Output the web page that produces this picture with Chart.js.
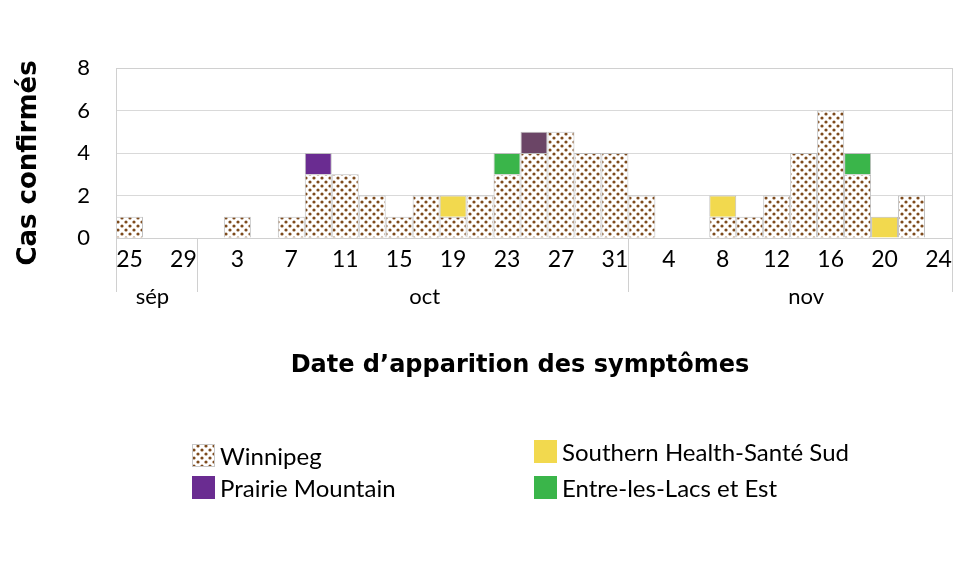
<!DOCTYPE html>
<html>
<head>
<meta charset="utf-8">
<script src="https://cdn.jsdelivr.net/npm/chart.js@4"></script>
<style>
  body { margin: 0; background: #fff; }
  canvas { display: block; }
</style>
</head>
<body>
<canvas id="casesChart" width="980" height="568"></canvas>
<script>
// ===== Data =====
// one bar per 2 days, 25 sep -> 24 nov
const dayLabels = [
  '25', '27', '29',
  '1', '3', '5', '7', '9', '11', '13', '15', '17', '19', '21', '23', '25', '27', '29', '31',
  '2', '4', '6', '8', '10', '12', '14', '16', '18', '20', '22', '24'
];
const monthNames = ['sép', 'oct', 'nov'];
const monthBarCounts = [3, 16, 12];

const winnipeg       = [1,0,0, 0,1,0,1,3,3,2,1,2,1,2,3,4,5,4,4, 2,0,0,1,1,2,4,6,3,0,2,0];
const prairieMtn     = [0,0,0, 0,0,0,0,1,0,0,0,0,0,0,0,0,0,0,0, 0,0,0,0,0,0,0,0,0,0,0,0];
const southernHealth = [0,0,0, 0,0,0,0,0,0,0,0,0,1,0,0,0,0,0,0, 0,0,0,1,0,0,0,0,0,1,0,0];
const entreLesLacs   = [0,0,0, 0,0,0,0,0,0,0,0,0,0,0,1,0,0,0,0, 0,0,0,0,0,0,0,0,1,0,0,0];
const otherRegion    = [0,0,0, 0,0,0,0,0,0,0,0,0,0,0,0,1,0,0,0, 0,0,0,0,0,0,0,0,0,0,0,0];

const yTicks = [0, 2, 4, 6, 8];

const xTitle = 'Date d’apparition des symptômes';
const yTitle = 'Cas confirmés';

// ===== Dotted pattern for Winnipeg =====
function makeDotPattern() {
  const c = document.createElement('canvas');
  c.width = 8;
  c.height = 8;
  const g = c.getContext('2d');
  g.fillStyle = '#ffffff';
  g.fillRect(0, 0, 8, 8);
  g.fillStyle = '#7d4a1c';
  [[2, 2], [6, 6]].forEach(([cx, cy]) => {
    g.beginPath();
    g.arc(cx, cy, 1.6, 0, Math.PI * 2);
    g.fill();
  });
  return document.getElementById('casesChart').getContext('2d').createPattern(c, 'repeat');
}
const dots = makeDotPattern();

const FONT = 'Lato, "Open Sans", sans-serif';
const TITLE_FONT = '"DejaVu Sans", "Open Sans", sans-serif';

// ===== Titles, month row, legend, plot frame =====
const extrasPlugin = {
  id: 'extras',
  afterDraw(chart) {
    const { ctx, chartArea, scales } = chart;
    const x = scales.x;
    const half = (x.getPixelForValue(1) - x.getPixelForValue(0)) / 2;

    ctx.save();
    // plot frame
    ctx.strokeStyle = '#d0d0d0';
    ctx.lineWidth = 1;
    ctx.strokeRect(Math.round(chartArea.left) + 0.5, Math.round(chartArea.top) + 0.5,
      Math.round(chartArea.right - chartArea.left), Math.round(chartArea.bottom - chartArea.top));

    // month separators and names
    const labelShift = [-4, 12, 16];
    let start = 0;
    const edges = [0];
    monthBarCounts.forEach(n => { start += n; edges.push(start); });
    edges.forEach(i => {
      const px = Math.round(x.getPixelForValue(i) - half) + 0.5;
      ctx.beginPath();
      ctx.moveTo(px, chartArea.bottom);
      ctx.lineTo(px, chartArea.bottom + 54);
      ctx.stroke();
    });
    ctx.fillStyle = '#000';
    ctx.font = '22px ' + FONT;
    ctx.textAlign = 'center';
    ctx.textBaseline = 'middle';
    monthNames.forEach((m, k) => {
      const a = x.getPixelForValue(edges[k]) - half;
      const b = x.getPixelForValue(edges[k + 1]) - half;
      ctx.fillText(m, (a + b) / 2 + labelShift[k], chartArea.bottom + 59);
    });

    // axis titles
    ctx.font = 'bold 24px ' + TITLE_FONT;
    ctx.fillText(xTitle, 520, 366);
    ctx.save();
    ctx.translate(29, 163);
    ctx.rotate(-Math.PI / 2);
    ctx.font = 'bold 26px ' + TITLE_FONT;
    ctx.fillText(yTitle, 0, 0);
    ctx.restore();

    // legend (two columns)
    const slots = [
      { ds: 0, x: 192, y: 444 },
      { ds: 1, x: 192, y: 476 },
      { ds: 2, x: 534, y: 440 },
      { ds: 3, x: 534, y: 476 }
    ];
    ctx.textAlign = 'left';
    ctx.font = '24px ' + FONT;
    slots.forEach(s => {
      const ds = chart.data.datasets[s.ds];
      ctx.fillStyle = ds.color;
      ctx.fillRect(s.x, s.y, 23, 23);
      ctx.strokeStyle = ds.legendBorder;
      ctx.strokeRect(s.x + 0.5, s.y + 0.5, 22, 22);
      ctx.fillStyle = '#000';
      ctx.fillText(ds.label, s.x + 28, s.y + 13);
    });
    ctx.restore();
  }
};

const regions = [
  { label: 'Winnipeg', data: winnipeg, color: dots, legendBorder: '#c8c8c8' },
  { label: 'Prairie Mountain', data: prairieMtn, color: '#6a2c91', legendBorder: '#6a2c91' },
  { label: 'Southern Health-Santé Sud', data: southernHealth, color: '#f2d94e', legendBorder: '#f2d94e' },
  { label: 'Entre-les-Lacs et Est', data: entreLesLacs, color: '#3ab54a', legendBorder: '#3ab54a' },
  { label: 'Autre', data: otherRegion, color: '#6b4566', legendBorder: '#6b4566' }
];

new Chart(document.getElementById('casesChart'), {
  type: 'bar',
  data: {
    labels: dayLabels,
    datasets: regions.map(r => Object.assign({}, r, {
      backgroundColor: c => (c.raw ? r.color : 'rgba(0,0,0,0)'),
      borderColor: '#bdbdbd',
      borderWidth: c => (c.raw ? 1 : 0),
      inflateAmount: 0,
      barPercentage: 1,
      categoryPercentage: 1
    }))
  },
  options: {
    responsive: false,
    animation: false,
    layout: { padding: { top: 68, right: 28, bottom: 185, left: 0 } },
    plugins: {
      legend: { display: false },
      tooltip: { enabled: false }
    },
    scales: {
      x: {
        stacked: true,
        grid: { display: false, drawTicks: false },
        border: { display: false },
        afterFit: s => { s.height = 145; },
        ticks: {
          autoSkip: false,
          maxRotation: 0,
          minRotation: 0,
          padding: 8,
          color: '#000',
          font: { family: FONT, size: 23 },
          callback: (v, i) => (i % 2 === 0 ? dayLabels[i] : '')
        }
      },
      y: {
        stacked: true,
        min: yTicks[0],
        max: yTicks[yTicks.length - 1],
        afterFit: s => { s.width = 116; },
        afterBuildTicks: s => { s.ticks = yTicks.map(v => ({ value: v })); },
        grid: { color: '#d9d9d9', drawTicks: false },
        border: { display: false },
        ticks: {
          padding: 26,
          color: '#000',
          font: { family: FONT, size: 22 }
        }
      }
    }
  },
  plugins: [extrasPlugin]
});
</script>
</body>
</html>
